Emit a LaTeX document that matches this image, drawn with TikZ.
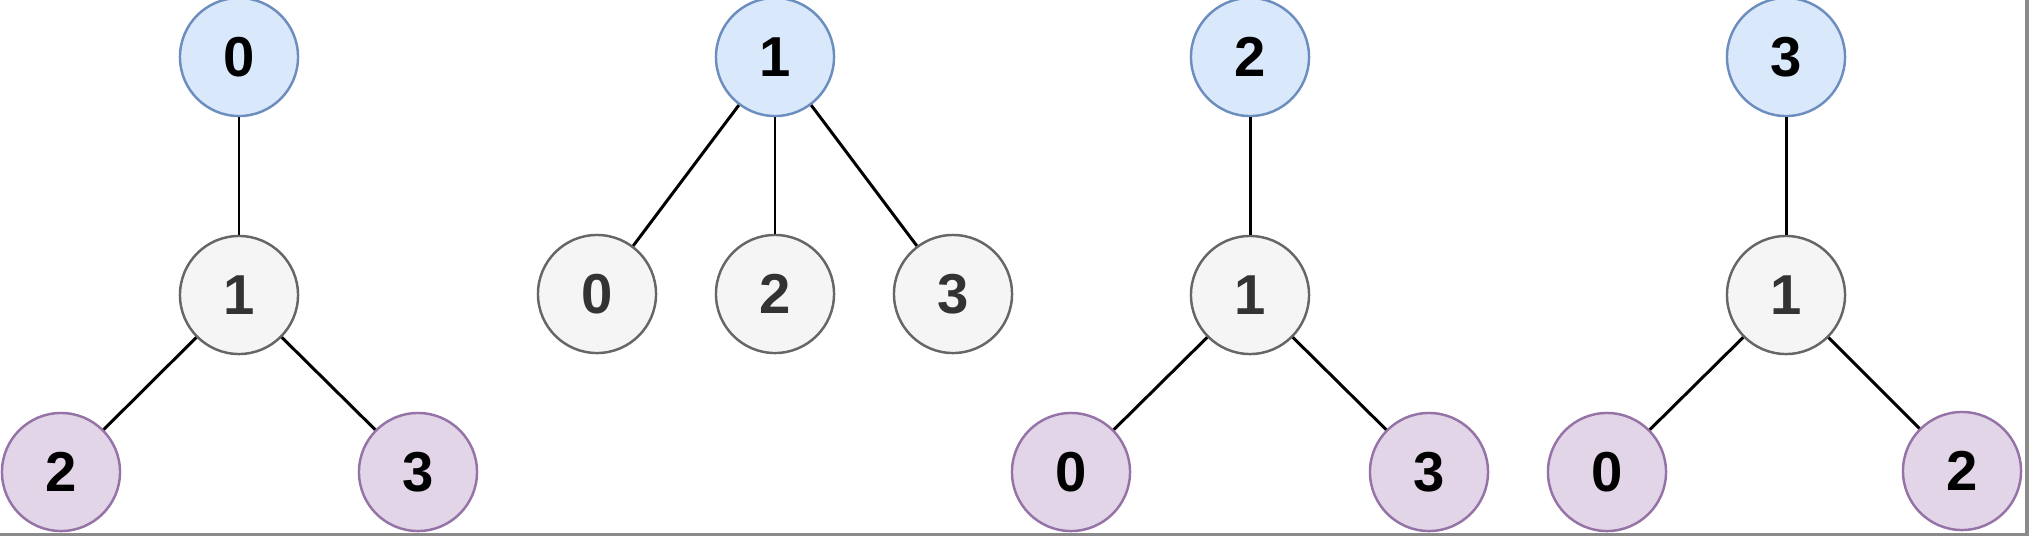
\documentclass[tikz,border=0pt]{standalone}
\usepackage{fontspec}
\setmainfont{Liberation Sans}
\definecolor{rootfill}{HTML}{DAE8FC}
\definecolor{rootline}{HTML}{6C8EBF}
\definecolor{midfill}{HTML}{F5F5F5}
\definecolor{midline}{HTML}{666666}
\definecolor{midtext}{HTML}{333333}
\definecolor{leaffill}{HTML}{E1D5E7}
\definecolor{leafline}{HTML}{9673A6}
\definecolor{edgegray}{HTML}{8A8A8A}
\begin{document}
\begin{tikzpicture}[
    x=0.01cm, y=-0.01cm,
    vert/.style={circle, draw, line width=0.7pt, minimum size=1.18cm, inner sep=0pt, font=\fontsize{16}{19}\selectfont\bfseries},
    root/.style={vert, fill=rootfill, draw=rootline},
    mid/.style={vert, fill=midfill, draw=midline, text=midtext},
    leaf/.style={vert, fill=leaffill, draw=leafline},
    edge/.style={line width=0.85pt}
]
\useasboundingbox (0,0) rectangle (2029,536);

% Tree rooted at 0
\node[root] (a0) at (239,57) {0};
\node[mid] (a1) at (239,295) {1};
\node[leaf] (a2) at (61,472) {2};
\node[leaf] (a3) at (418,472) {3};

% Tree rooted at 1
\node[root] (b1) at (775,57) {1};
\node[mid] (b0) at (597,294) {0};
\node[mid] (b2) at (775,294) {2};
\node[mid] (b3) at (953,294) {3};

% Tree rooted at 2
\node[root] (c2) at (1250,57) {2};
\node[mid] (c1) at (1250,295) {1};
\node[leaf] (c0) at (1071,472) {0};
\node[leaf] (c3) at (1429,472) {3};

% Tree rooted at 3
\node[root] (d3) at (1786,57) {3};
\node[mid] (d1) at (1786,295) {1};
\node[leaf] (d0) at (1607,472) {0};
\node[leaf] (d2) at (1962,471) {2};

% Edges
\draw[edge] (a0) -- (a1); \draw[edge] (a1) -- (a2); \draw[edge] (a1) -- (a3);
\draw[edge] (b1) -- (b0); \draw[edge] (b1) -- (b2); \draw[edge] (b1) -- (b3);
\draw[edge] (c2) -- (c1); \draw[edge] (c1) -- (c0); \draw[edge] (c1) -- (c3);
\draw[edge] (d3) -- (d1); \draw[edge] (d1) -- (d0); \draw[edge] (d1) -- (d2);

% Frame strips
\fill[edgegray] (2025,0) rectangle (2029,536);
\fill[edgegray] (0,533) rectangle (2029,536);

\end{tikzpicture}
\end{document}
